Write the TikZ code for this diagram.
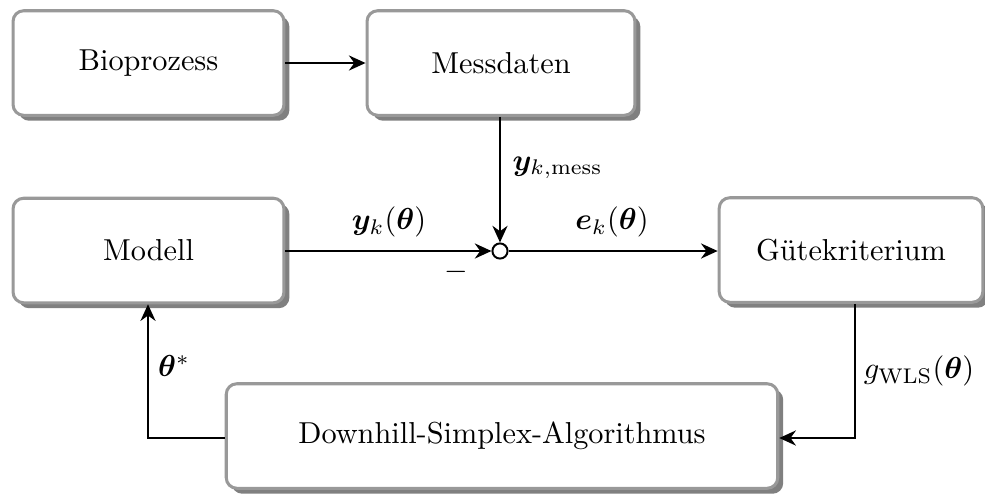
\documentclass[tikz,border=0pt]{standalone}
\usepackage{bm}
\usetikzlibrary{arrows.meta,shadows}

\begin{document}
\begin{tikzpicture}[
  x=0.33pt, y=-0.33pt,
  block/.style={draw=black!40, line width=1pt, fill=white,
    rounded corners=3.5pt, minimum height=34.5pt, inner sep=0pt,
    drop shadow={shadow xshift=1.8pt, shadow yshift=-1.8pt,
      fill=black!50, opacity=1}},
  conn/.style={line width=0.65pt, -{Stealth[length=5.5pt,width=5pt,inset=1.8pt]}},
  sum/.style={circle, draw, line width=0.65pt, fill=white,
    minimum size=5pt, inner sep=0pt},
  lbl/.style={inner sep=0pt}
]
\useasboundingbox (0,0) rectangle (985,498);

% blocks
\node[block, minimum width=89.4pt] (bio)  at (148.5,63)  {Bioprozess};
\node[block, minimum width=88.4pt] (mess) at (501,63)    {Messdaten};
\node[block, minimum width=89.4pt] (mod)  at (148.5,250.5) {Modell};
\node[block, minimum width=87pt]   (gue)  at (851,250)   {Gütekriterium};
\node[block, minimum width=182pt]  (dhs)  at (502,436)   {Downhill-Simplex-Algorithmus};

% summing point
\node[sum] (s) at (500,251) {};

% helper corners
\coordinate (cl) at (148,438);
\coordinate (cr) at (855,438);

% connectors
\draw[conn] (bio) -- (mess);
\draw[conn] (mess.south -| s) -- (s);
\draw[conn] (mod.east |- s) -- (s);
\draw[conn] (s) -- (gue.west |- s);
\draw[conn] (gue.south -| cr) -- (cr) -- (dhs.east |- cr);
\draw[conn] (dhs.west |- cl) -- (cl) -- (mod.south -| cl);

% labels
\node[lbl, anchor=west] (lmess) at (512,168) {$\bm{y}_{k,\mathrm{mess}}$};
\node[lbl] (ly) at (389,222) {$\bm{y}_k(\bm{\theta})$};
\node[lbl] (le) at (612,222) {$\bm{e}_k(\bm{\theta})$};
\node[lbl] (lm) at (456,272) {$-$};
\node[lbl] (lt) at (174,366) {$\bm{\theta}^{*}$};
\node[lbl] (lg) at (919,371) {$g_{\mathrm{WLS}}(\bm{\theta})$};
\end{tikzpicture}
\end{document}
